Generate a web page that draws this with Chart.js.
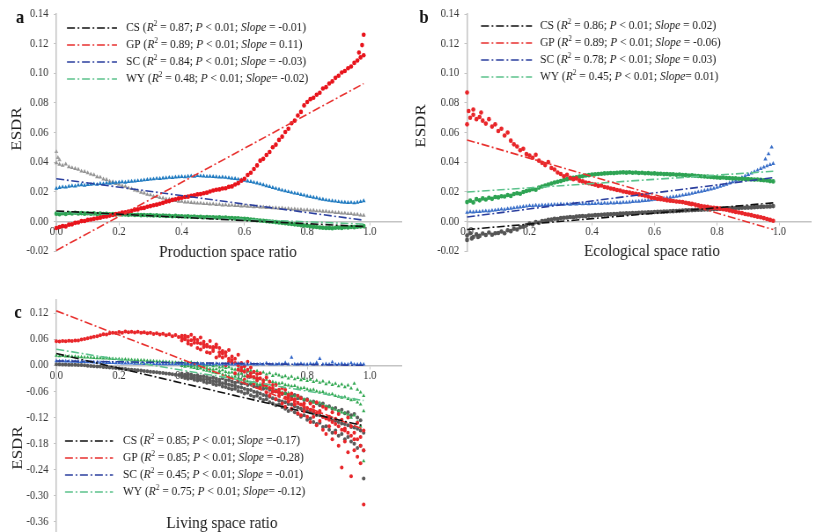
<!DOCTYPE html>
<html>
<head>
<meta charset="utf-8">
<script src="https://cdn.jsdelivr.net/npm/chart.js@4.4.1/dist/chart.umd.min.js"></script>
<style>
  html, body { margin: 0; padding: 0; background: #fff; }
  body { width: 814px; height: 532px; position: relative; overflow: hidden; }
  .panel { position: absolute; transform-origin: 0 0; transform: scaleX(0.88); }
  .panel canvas { display: block; }
</style>
</head>
<body>
<div class="panel" style="left:0;top:0"><canvas id="chartA" width="460" height="270"></canvas></div>
<div class="panel" style="left:405px;top:0"><canvas id="chartB" width="465" height="270"></canvas></div>
<div class="panel" style="left:0;top:290px"><canvas id="chartC" width="466" height="246"></canvas></div>
<script>
// ---------- shared categories and labels ----------
const seriesNames = ['CS', 'GP', 'SC', 'WY'];
const ratioGrid = [
  0.00,0.01,0.02,0.03,0.04,0.05,0.06,0.07,0.08,0.09,
  0.10,0.11,0.12,0.13,0.14,0.15,0.16,0.17,0.18,0.19,
  0.20,0.21,0.22,0.23,0.24,0.25,0.26,0.27,0.28,0.29,
  0.30,0.31,0.32,0.33,0.34,0.35,0.36,0.37,0.38,0.39,
  0.40,0.41,0.42,0.43,0.44,0.45,0.46,0.47,0.48,0.49,
  0.50,0.51,0.52,0.53,0.54,0.55,0.56,0.57,0.58,0.59,
  0.60,0.61,0.62,0.63,0.64,0.65,0.66,0.67,0.68,0.69,
  0.70,0.71,0.72,0.73,0.74,0.75,0.76,0.77,0.78,0.79,
  0.80,0.81,0.82,0.83,0.84,0.85,0.86,0.87,0.88,0.89,
  0.90,0.91,0.92,0.93,0.94,0.95,0.96,0.97,0.98];
const ratioTicks = [0, 0.2, 0.4, 0.6, 0.8, 1.0];
const esdrTicksAB = [-0.02, 0, 0.02, 0.04, 0.06, 0.08, 0.10, 0.12, 0.14];
const esdrTicksC = [-0.36, -0.30, -0.24, -0.18, -0.12, -0.06, 0, 0.06, 0.12];
const fitRange = [0, 0.98];

// ---------- (a) production space ----------
const prodCS = [
  0.0395,0.0385,0.0378,0.0386,0.0368,0.0362,0.0356,0.0351,0.0338,0.0336,
  0.0327,0.0318,0.0314,0.0300,0.0298,0.0285,0.0282,0.0270,0.0266,0.0255,
  0.0249,0.0240,0.0235,0.0225,0.0220,0.0210,0.0206,0.0195,0.0191,0.0181,
  0.0178,0.0169,0.0167,0.0159,0.0157,0.0150,0.0149,0.0141,0.0140,0.0135,
  0.0134,0.0130,0.0129,0.0126,0.0125,0.0122,0.0122,0.0119,0.0119,0.0116,
  0.0117,0.0113,0.0114,0.0110,0.0111,0.0108,0.0109,0.0105,0.0106,0.0103,
  0.0104,0.0101,0.0101,0.0098,0.0099,0.0096,0.0096,0.0093,0.0094,0.0090,
  0.0091,0.0088,0.0089,0.0085,0.0086,0.0083,0.0083,0.0079,0.0080,0.0076,
  0.0077,0.0073,0.0074,0.0070,0.0070,0.0067,0.0067,0.0063,0.0063,0.0059,
  0.0059,0.0055,0.0055,0.0051,0.0051,0.0047,0.0047,0.0042,0.0040];
const prodGP = [
  -0.0045,-0.0038,-0.0032,-0.0034,-0.0022,-0.0020,-0.0010,-0.0008,0.0002,0.0003,
  0.0010,0.0013,0.0017,0.0021,0.0025,0.0031,0.0033,0.0039,0.0043,0.0049,
  0.0053,0.0059,0.0061,0.0067,0.0071,0.0079,0.0081,0.0089,0.0091,0.0099,
  0.0103,0.0109,0.0113,0.0119,0.0125,0.0133,0.0137,0.0145,0.0149,0.0155,
  0.0159,0.0165,0.0167,0.0173,0.0176,0.0182,0.0184,0.0190,0.0194,0.0202,
  0.0208,0.0214,0.0216,0.0222,0.0224,0.0233,0.0236,0.0249,0.0258,0.0275,
  0.0288,0.0313,0.0328,0.0354,0.0378,0.0410,0.0422,0.0448,0.0468,0.0500,
  0.0518,0.0550,0.0572,0.0603,0.0625,0.0662,0.0680,0.0715,0.0739,0.0783,
  0.0806,0.0825,0.0835,0.0855,0.0868,0.0897,0.0906,0.0931,0.0945,0.0969,
  0.0983,0.1005,0.1015,0.1034,0.1046,0.1070,0.1086,0.1107,0.1122];
const prodSC = [
  0.0222,0.0228,0.0232,0.0230,0.0236,0.0240,0.0238,0.0244,0.0246,0.0243,
  0.0248,0.0250,0.0252,0.0249,0.0255,0.0253,0.0258,0.0256,0.0260,0.0262,
  0.0264,0.0266,0.0263,0.0268,0.0270,0.0272,0.0274,0.0276,0.0279,0.0282,
  0.0284,0.0286,0.0289,0.0288,0.0292,0.0294,0.0296,0.0295,0.0299,0.0300,
  0.0302,0.0300,0.0304,0.0306,0.0304,0.0308,0.0306,0.0305,0.0303,0.0304,
  0.0302,0.0300,0.0298,0.0299,0.0296,0.0294,0.0290,0.0288,0.0284,0.0280,
  0.0276,0.0272,0.0268,0.0262,0.0258,0.0252,0.0246,0.0240,0.0234,0.0228,
  0.0222,0.0216,0.0210,0.0205,0.0200,0.0195,0.0190,0.0186,0.0180,0.0176,
  0.0170,0.0166,0.0162,0.0158,0.0152,0.0148,0.0144,0.0141,0.0138,0.0136,
  0.0132,0.0130,0.0128,0.0126,0.0127,0.0124,0.0128,0.0132,0.0138];
const prodWY = [
  0.0052,0.0048,0.0055,0.0050,0.0057,0.0053,0.0058,0.0054,0.0056,0.0052,
  0.0055,0.0051,0.0054,0.0050,0.0052,0.0049,0.0051,0.0048,0.0050,0.0047,
  0.0048,0.0046,0.0047,0.0044,0.0046,0.0043,0.0045,0.0042,0.0043,0.0041,
  0.0042,0.0040,0.0041,0.0038,0.0040,0.0037,0.0038,0.0035,0.0037,0.0034,
  0.0035,0.0033,0.0034,0.0031,0.0033,0.0030,0.0031,0.0028,0.0030,0.0027,
  0.0028,0.0026,0.0027,0.0024,0.0025,0.0022,0.0023,0.0020,0.0021,0.0018,
  0.0017,0.0015,0.0013,0.0011,0.0008,0.0006,0.0004,0.0002,-0.0001,-0.0003,
  -0.0005,-0.0008,-0.0010,-0.0013,-0.0015,-0.0018,-0.0020,-0.0023,-0.0025,-0.0028,
  -0.0030,-0.0033,-0.0036,-0.0038,-0.0041,-0.0043,-0.0045,-0.0044,-0.0046,-0.0043,
  -0.0042,-0.0044,-0.0040,-0.0041,-0.0038,-0.0039,-0.0036,-0.0035,-0.0032];
const prodCSOutliers = [[0, 0.047], [0.005, 0.043], [0.01, 0.0415]];
const prodGPOutliers = [[0.98, 0.126], [0.975, 0.119], [0.965, 0.114]];
const prodFitStart = [0.0070, -0.0196, 0.0288, 0.0062];
const prodFitEnd = [-0.0035, 0.0930, 0.0008, -0.0018];
const prodR2 = ['0.87', '0.89', '0.84', '0.48'];
const prodSlope = [' = -0.01)', ' = 0.11)', ' = -0.03)', '= -0.02)'];

// ---------- (b) ecological space ----------
const ecoCS = [
  -0.0095,-0.0080,-0.0105,-0.0088,-0.0098,-0.0082,-0.0092,-0.0075,-0.0090,-0.0080,
  -0.0078,-0.0068,-0.0080,-0.0060,-0.0066,-0.0050,-0.0055,-0.0040,-0.0036,-0.0025,
  -0.0015,-0.0020,-0.0005,-0.0010,0.0002,0.0004,0.0010,0.0012,0.0018,0.0016,
  0.0022,0.0024,0.0026,0.0030,0.0028,0.0032,0.0034,0.0036,0.0035,0.0039,
  0.0040,0.0042,0.0043,0.0044,0.0046,0.0047,0.0048,0.0050,0.0050,0.0052,
  0.0053,0.0054,0.0055,0.0056,0.0057,0.0058,0.0059,0.0060,0.0061,0.0062,
  0.0063,0.0064,0.0065,0.0066,0.0067,0.0068,0.0069,0.0070,0.0071,0.0073,
  0.0074,0.0075,0.0076,0.0077,0.0078,0.0079,0.0080,0.0081,0.0082,0.0083,
  0.0084,0.0085,0.0086,0.0087,0.0088,0.0089,0.0090,0.0091,0.0092,0.0092,
  0.0093,0.0094,0.0096,0.0097,0.0098,0.0099,0.0100,0.0101,0.0103];
const ecoGP = [
  0.0655,0.0700,0.0720,0.0690,0.0705,0.0680,0.0660,0.0690,0.0640,0.0655,
  0.0610,0.0625,0.0580,0.0600,0.0545,0.0520,0.0505,0.0480,0.0490,0.0455,
  0.0445,0.0430,0.0450,0.0410,0.0395,0.0380,0.0400,0.0360,0.0350,0.0330,
  0.0320,0.0305,0.0315,0.0295,0.0285,0.0290,0.0275,0.0270,0.0262,0.0258,
  0.0252,0.0248,0.0240,0.0242,0.0232,0.0228,0.0222,0.0218,0.0212,0.0208,
  0.0202,0.0198,0.0194,0.0190,0.0186,0.0182,0.0178,0.0174,0.0168,0.0160,
  0.0158,0.0152,0.0150,0.0146,0.0142,0.0140,0.0138,0.0134,0.0132,0.0130,
  0.0126,0.0122,0.0118,0.0114,0.0108,0.0104,0.0100,0.0098,0.0094,0.0092,
  0.0090,0.0086,0.0082,0.0078,0.0074,0.0068,0.0064,0.0060,0.0056,0.0050,
  0.0046,0.0042,0.0036,0.0032,0.0028,0.0022,0.0016,0.0010,0.0004];
const ecoSC = [
  0.0060,0.0064,0.0062,0.0066,0.0065,0.0068,0.0070,0.0069,0.0073,0.0075,
  0.0078,0.0082,0.0080,0.0085,0.0088,0.0090,0.0094,0.0096,0.0099,0.0102,
  0.0105,0.0104,0.0108,0.0106,0.0110,0.0109,0.0112,0.0111,0.0114,0.0113,
  0.0116,0.0114,0.0117,0.0115,0.0118,0.0116,0.0119,0.0117,0.0120,0.0118,
  0.0120,0.0119,0.0122,0.0120,0.0123,0.0121,0.0124,0.0123,0.0126,0.0125,
  0.0128,0.0127,0.0130,0.0132,0.0134,0.0135,0.0138,0.0140,0.0142,0.0145,
  0.0148,0.0150,0.0153,0.0156,0.0159,0.0162,0.0165,0.0168,0.0172,0.0176,
  0.0180,0.0184,0.0188,0.0193,0.0198,0.0202,0.0207,0.0212,0.0218,0.0223,
  0.0229,0.0236,0.0242,0.0250,0.0258,0.0267,0.0276,0.0286,0.0296,0.0305,
  0.0315,0.0325,0.0335,0.0345,0.0356,0.0365,0.0374,0.0382,0.0390];
const ecoWY = [
  0.0130,0.0140,0.0128,0.0150,0.0142,0.0155,0.0148,0.0160,0.0152,0.0165,
  0.0162,0.0170,0.0168,0.0178,0.0172,0.0185,0.0190,0.0186,0.0198,0.0205,
  0.0210,0.0218,0.0214,0.0228,0.0235,0.0242,0.0248,0.0256,0.0262,0.0268,
  0.0272,0.0280,0.0285,0.0290,0.0294,0.0298,0.0302,0.0305,0.0310,0.0312,
  0.0316,0.0318,0.0320,0.0322,0.0324,0.0325,0.0327,0.0326,0.0328,0.0330,
  0.0331,0.0329,0.0332,0.0328,0.0330,0.0327,0.0328,0.0325,0.0326,0.0323,
  0.0324,0.0321,0.0322,0.0319,0.0320,0.0317,0.0318,0.0315,0.0316,0.0313,
  0.0312,0.0310,0.0311,0.0308,0.0306,0.0305,0.0303,0.0302,0.0300,0.0298,
  0.0297,0.0295,0.0296,0.0293,0.0292,0.0290,0.0291,0.0288,0.0287,0.0286,
  0.0285,0.0284,0.0282,0.0283,0.0280,0.0278,0.0276,0.0272,0.0270];
const ecoCSOutliers = [[0, -0.0125], [0.015, -0.0115], [0.035, -0.0105]];
const ecoGPOutliers = [[0, 0.087], [0.02, 0.0755], [0.005, 0.0745], [0.045, 0.0735]];
const ecoSCOutliers = [[0.975, 0.050], [0.965, 0.0455], [0.955, 0.042]];
const ecoFitStart = [-0.0055, 0.0550, 0.0030, 0.0198];
const ecoFitEnd = [0.0125, -0.0055, 0.0295, 0.0338];
const ecoR2 = ['0.86', '0.89', '0.78', '0.45'];
const ecoSlope = [' = 0.02)', ' = -0.06)', ' = 0.03)', '= 0.01)'];

// ---------- (c) living space ----------
const livCS = [
  0.0025,0.0022,0.0020,0.0018,0.0015,0.0012,0.0010,0.0006,0.0004,0.0000,
  -0.0012,-0.0016,-0.0020,-0.0026,-0.0030,-0.0038,-0.0044,-0.0050,-0.0058,-0.0065,
  -0.0072,-0.0080,-0.0086,-0.0094,-0.0100,-0.0108,-0.0115,-0.0122,-0.0130,-0.0138,
  -0.0148,-0.0155,-0.0162,-0.0170,-0.0178,-0.0186,-0.0195,-0.0205,-0.0215,-0.0222,
  -0.0230,-0.0250,-0.0240,-0.0270,-0.0290,-0.0280,-0.0310,-0.0330,-0.0320,-0.0350,
  -0.0360,-0.0380,-0.0370,-0.0410,-0.0420,-0.0440,-0.0460,-0.0470,-0.0500,-0.0510,
  -0.0540,-0.0560,-0.0570,-0.0610,-0.0620,-0.0650,-0.0680,-0.0700,-0.0720,-0.0760,
  -0.0780,-0.0810,-0.0830,-0.0850,-0.0890,-0.0900,-0.0940,-0.0970,-0.1000,-0.1020,
  -0.1050,-0.1080,-0.1100,-0.1140,-0.1150,-0.1180,-0.1210,-0.1230,-0.1270,-0.1280,
  -0.1300,-0.1340,-0.1350,-0.1380,-0.1420,-0.1430,-0.1460,-0.1500,-0.1550];
const livCSUpper = [
  -0.0190,-0.0220,-0.0200,-0.0210,-0.0240,-0.0230,-0.0260,-0.0250,-0.0270,-0.0300,
  -0.0280,-0.0310,-0.0330,-0.0300,-0.0350,-0.0340,-0.0370,-0.0400,-0.0380,-0.0420,
  -0.0410,-0.0450,-0.0430,-0.0480,-0.0500,-0.0470,-0.0540,-0.0520,-0.0560,-0.0600,
  -0.0580,-0.0620,-0.0660,-0.0640,-0.0690,-0.0720,-0.0680,-0.0760,-0.0740,-0.0800,
  -0.0780,-0.0850,-0.0830,-0.0870,-0.0920,-0.0880,-0.0960,-0.0940,-0.1000,-0.0980,
  -0.1050,-0.1020,-0.1100,-0.1080,-0.1150,-0.1120,-0.1200,-0.1260,-0.1960];
const livCSLower = [
  -0.0270,-0.0290,-0.0310,-0.0300,-0.0330,-0.0350,-0.0340,-0.0380,-0.0400,-0.0390,
  -0.0430,-0.0450,-0.0440,-0.0490,-0.0500,-0.0530,-0.0550,-0.0540,-0.0590,-0.0610,
  -0.0650,-0.0630,-0.0690,-0.0720,-0.0700,-0.0760,-0.0800,-0.0780,-0.0850,-0.0880,
  -0.0920,-0.0900,-0.0960,-0.1000,-0.1050,-0.1020,-0.1080,-0.1120,-0.1180,-0.1150,
  -0.1250,-0.1220,-0.1300,-0.1350,-0.1320,-0.1420,-0.1400,-0.1480,-0.1550,-0.1500,
  -0.1620,-0.1580,-0.1700,-0.1650,-0.1750,-0.1800,-0.1900,-0.1850,-0.2600];
const livGP = [
  0.0550,0.0545,0.0560,0.0552,0.0565,0.0558,0.0572,0.0568,0.0590,0.0602,
  0.0620,0.0640,0.0655,0.0668,0.0690,0.0712,0.0705,0.0735,0.0748,0.0740,
  0.0762,0.0750,0.0775,0.0760,0.0770,0.0755,0.0772,0.0748,0.0760,0.0735,
  0.0745,0.0720,0.0738,0.0705,0.0725,0.0690,0.0712,0.0670,0.0695,0.0650,
  0.0640,0.0620,0.0655,0.0575,0.0600,0.0520,0.0500,0.0470,0.0430,0.0420,
  0.0380,0.0420,0.0300,0.0270,0.0220,0.0150,0.0120,0.0050,0.0000,-0.0050,
  -0.0150,-0.0100,-0.0180,-0.0270,-0.0350,-0.0300,-0.0420,-0.0460,-0.0520,-0.0530,
  -0.0600,-0.0630,-0.0650,-0.0740,-0.0750,-0.0780,-0.0820,-0.0860,-0.0900,-0.0950,
  -0.0980,-0.1020,-0.1050,-0.1100,-0.1080,-0.1180,-0.1220,-0.1250,-0.1300,-0.1230,
  -0.1400,-0.1480,-0.1500,-0.1550,-0.1620,-0.1550,-0.1700,-0.1850,-0.1950];
const livGPUpper = [
  0.0680,0.0600,0.0560,0.0700,0.0520,0.0580,0.0640,0.0420,0.0470,0.0560,
  0.0330,0.0480,0.0400,0.0180,0.0300,0.0350,0.0060,0.0150,0.0240,-0.0120,
  -0.0020,0.0080,-0.0260,-0.0150,-0.0300,-0.0180,-0.0450,-0.0280,-0.0380,-0.0600,
  -0.0450,-0.0700,-0.0520,-0.0560,-0.0830,-0.0650,-0.0900,-0.0700,-0.0760,-0.1050,
  -0.0800,-0.0880,-0.1180,-0.0850,-0.1280,-0.0950,-0.1000,-0.1400,-0.1080,-0.1550,
  -0.1120,-0.1250,-0.1750,-0.1200,-0.1400,-0.1950,-0.1320,-0.2250,-0.1500];
const livGPLower = [
  0.0570,0.0680,0.0500,0.0470,0.0630,0.0400,0.0360,0.0540,0.0300,0.0280,
  0.0420,0.0180,0.0220,0.0330,0.0000,0.0080,0.0200,-0.0180,-0.0100,0.0050,
  -0.0330,-0.0250,-0.0050,-0.0420,-0.0200,-0.0520,-0.0350,-0.0620,-0.0700,-0.0450,
  -0.0780,-0.0560,-0.0880,-0.0950,-0.0680,-0.1000,-0.0780,-0.1100,-0.1150,-0.0880,
  -0.1180,-0.1300,-0.0950,-0.1380,-0.1050,-0.1480,-0.1580,-0.1180,-0.1700,-0.1350,
  -0.1850,-0.2350,-0.1450,-0.2000,-0.2550,-0.1700,-0.2100,-0.1650,-0.3200];
const livSC = [
  0.0100,0.0098,0.0095,0.0094,0.0090,0.0088,0.0086,0.0082,0.0080,0.0078,
  0.0075,0.0072,0.0070,0.0068,0.0065,0.0062,0.0060,0.0058,0.0055,0.0053,
  0.0050,0.0048,0.0046,0.0045,0.0043,0.0041,0.0040,0.0038,0.0037,0.0035,
  0.0034,0.0033,0.0032,0.0031,0.0030,0.0030,0.0029,0.0028,0.0028,0.0027,
  0.0027,0.0026,0.0030,0.0025,0.0028,0.0024,0.0035,0.0025,0.0026,0.0024,
  0.0025,0.0040,0.0024,0.0026,0.0023,0.0030,0.0024,0.0022,0.0045,0.0023,
  0.0024,0.0022,0.0035,0.0023,0.0021,0.0028,0.0022,0.0050,0.0021,0.0023,
  0.0022,0.0030,0.0021,0.0060,0.0022,0.0180,0.0025,0.0021,0.0040,0.0022,
  0.0020,0.0035,0.0021,0.0060,0.0150,0.0022,0.0030,0.0020,0.0070,0.0021,
  0.0020,0.0040,0.0021,0.0020,0.0050,0.0021,0.0020,0.0030,0.0020];
const livWY = [
  0.0220,0.0212,0.0215,0.0205,0.0208,0.0198,0.0200,0.0192,0.0190,0.0185,
  0.0180,0.0176,0.0172,0.0168,0.0165,0.0160,0.0158,0.0152,0.0150,0.0146,
  0.0142,0.0138,0.0136,0.0130,0.0128,0.0122,0.0120,0.0114,0.0112,0.0106,
  0.0102,0.0098,0.0094,0.0088,0.0085,0.0078,0.0075,0.0068,0.0065,0.0058,
  0.0030,0.0010,0.0040,-0.0010,0.0000,-0.0030,-0.0050,-0.0020,-0.0070,-0.0080,
  -0.0100,-0.0090,-0.0130,-0.0110,-0.0150,-0.0170,-0.0160,-0.0200,-0.0210,-0.0190,
  -0.0250,-0.0240,-0.0270,-0.0300,-0.0280,-0.0320,-0.0340,-0.0330,-0.0370,-0.0380,
  -0.0400,-0.0420,-0.0410,-0.0450,-0.0460,-0.0480,-0.0470,-0.0510,-0.0530,-0.0520,
  -0.0550,-0.0570,-0.0560,-0.0600,-0.0620,-0.0610,-0.0650,-0.0670,-0.0660,-0.0700,
  -0.0720,-0.0740,-0.0730,-0.0770,-0.0800,-0.0790,-0.0850,-0.0900,-0.1050];
const livWYUpper = [
  0.0070,0.0060,0.0050,0.0070,0.0040,0.0050,0.0020,0.0030,0.0000,0.0010,
  -0.0020,0.0000,-0.0050,-0.0030,-0.0060,-0.0040,-0.0080,-0.0100,-0.0070,-0.0120,
  -0.0100,-0.0140,-0.0120,-0.0170,-0.0130,-0.0190,-0.0160,-0.0210,-0.0180,-0.0240,
  -0.0200,-0.0230,-0.0270,-0.0250,-0.0300,-0.0260,-0.0320,-0.0290,-0.0340,-0.0310,
  -0.0360,-0.0330,-0.0380,-0.0350,-0.0400,-0.0370,-0.0430,-0.0390,-0.0450,-0.0420,
  -0.0480,-0.0440,-0.0500,-0.0460,-0.0530,-0.0420,-0.0560,-0.0620,-0.0700];
const livWYLower = [
  -0.0010,-0.0030,-0.0020,-0.0050,-0.0060,-0.0080,-0.0070,-0.0110,-0.0120,-0.0140,
  -0.0160,-0.0180,-0.0170,-0.0210,-0.0230,-0.0250,-0.0270,-0.0260,-0.0300,-0.0330,
  -0.0350,-0.0370,-0.0400,-0.0390,-0.0430,-0.0450,-0.0480,-0.0500,-0.0530,-0.0550,
  -0.0580,-0.0600,-0.0620,-0.0650,-0.0640,-0.0690,-0.0710,-0.0730,-0.0760,-0.0780,
  -0.0800,-0.0830,-0.0850,-0.0880,-0.0860,-0.0910,-0.0940,-0.0960,-0.0990,-0.1020,
  -0.1050,-0.1080,-0.1100,-0.1130,-0.1200,-0.1150,-0.1300,-0.1400,-0.2200];
const livFitStart = [0.0270, 0.1250, 0.0100, 0.0370];
const livFitEnd = [-0.1390, -0.1470, 0.0000, -0.0810];
const livR2 = ['0.85', '0.85', '0.45', '0.75'];
const livSlope = [' =-0.17)', ' = -0.28)', ' = -0.01)', '= -0.12)'];

// ---------- styling ----------
const SQUEEZE = 0.88;          // matches the .panel scaleX
const SERIF = '"Liberation Serif", "Times New Roman", serif';
const AXIS_COLOR = '#c4c4c4';
const FIT_COLORS = ['#111111', '#e8312f', '#2b3f9e', '#5cc28c'];
const DASH = [9, 3, 2, 3];

function points(xs, ys) { return ys.map((y, i) => ({ x: xs[i], y })); }
function pairs(list) { return list.map(([x, y]) => ({ x, y })); }

function dots(data, color, order, style, radius) {
  return {
    type: 'scatter', data, order, clip: false,
    backgroundColor: color, borderColor: color,
    pointRadius: radius || 2.3, pointBorderWidth: 0, pointStyle: style || 'circle'
  };
}
function fitLine(y0, y1, color) {
  return {
    type: 'line', order: 0, clip: false, fill: false,
    data: [{ x: fitRange[0], y: y0 }, { x: fitRange[1], y: y1 }],
    borderColor: color, borderWidth: 1.6, borderDash: DASH, pointRadius: 0
  };
}

function axisScales(p) {
  const tickMarks = { display: true, drawOnChartArea: false, drawTicks: true, tickLength: 3, color: AXIS_COLOR, lineWidth: 1 };
  return {
    x: {
      type: 'linear', axis: 'x', min: 0, max: 1.1, position: { y: 0 },
      afterBuildTicks: s => { s.ticks = ratioTicks.map(v => ({ value: v })); },
      afterFit: s => { s.height = 0; s.paddingLeft = 0; s.paddingRight = 0; s.paddingTop = 0; s.paddingBottom = 0; },
      grid: tickMarks,
      border: { display: true, color: AXIS_COLOR, width: 1.5 },
      ticks: { padding: 0, autoSkip: false, maxRotation: 0, color: '#333',
               font: { family: SERIF, size: 12 }, callback: v => v.toFixed(1) }
    },
    y: {
      type: 'linear', axis: 'y', min: p.yMin, max: p.yMax, position: 'left',
      afterBuildTicks: s => { s.ticks = p.yTicks.map(v => ({ value: v })); },
      afterFit: s => { s.width = p.yWidth; s.paddingTop = 0; s.paddingBottom = 0; },
      grid: tickMarks,
      border: { display: true, color: AXIS_COLOR, width: 1.5 },
      ticks: { padding: 6, autoSkip: false, color: '#333',
               font: { family: SERIF, size: 12 }, callback: v => v.toFixed(2) }
    }
  };
}

// legend text with italic R, P, Slope and a superscript 2
function drawRich(ctx, x, y, parts, size) {
  let cx = x;
  for (const [txt, kind] of parts) {
    let dy = 0;
    if (kind === 'i') ctx.font = `italic ${size}px ${SERIF}`;
    else if (kind === 's') { ctx.font = `${size * 0.65}px ${SERIF}`; dy = -size * 0.36; }
    else ctx.font = `${size}px ${SERIF}`;
    ctx.fillText(txt, cx, y + dy);
    cx += ctx.measureText(txt).width;
  }
}

function decorations(p) {
  const X = v => v / SQUEEZE;
  return {
    id: 'decor',
    afterDraw(chart) {
      const ctx = chart.ctx;
      ctx.save();
      ctx.textBaseline = 'middle';
      ctx.textAlign = 'center';
      ctx.fillStyle = '#111';
      ctx.font = `bold 19px ${SERIF}`;
      ctx.fillText(p.letter, X(p.letterAt[0]), p.letterAt[1]);

      ctx.fillStyle = '#222';
      ctx.font = `17.5px ${SERIF}`;
      ctx.fillText(p.xTitle, X(p.xTitleAt[0]), p.xTitleAt[1]);

      ctx.save();
      ctx.translate(X(p.yTitleAt[0]), p.yTitleAt[1]);
      ctx.rotate(-Math.PI / 2);
      ctx.font = `17px ${SERIF}`;
      ctx.fillText('ESDR', 0, 0);
      ctx.restore();

      ctx.textAlign = 'left';
      seriesNames.forEach((name, i) => {
        const y = p.legendRows[i];
        ctx.save();
        ctx.strokeStyle = FIT_COLORS[i];
        ctx.lineWidth = 1.6;
        ctx.setLineDash(DASH);
        ctx.beginPath();
        ctx.moveTo(X(p.legendLine[0]), y);
        ctx.lineTo(X(p.legendLine[1]), y);
        ctx.stroke();
        ctx.restore();
        ctx.fillStyle = '#1a1a1a';
        drawRich(ctx, X(p.legendText), y, [
          [name + ' (', 'n'], ['R', 'i'], ['2', 's'], [' = ' + p.r2[i] + '; ', 'n'],
          ['P', 'i'], [' < 0.01; ', 'n'], ['Slope', 'i'], [p.slope[i], 'n']
        ], 13);
      });
      ctx.restore();
    }
  };
}

function makePanel(canvasId, p) {
  new Chart(document.getElementById(canvasId), {
    type: 'scatter',
    data: { datasets: p.datasets },
    options: {
      responsive: false, animation: false, devicePixelRatio: 1,
      layout: { padding: p.padding },
      plugins: { legend: { display: false }, tooltip: { enabled: false } },
      scales: axisScales(p)
    },
    plugins: [decorations(p)]
  });
}

const tail = ratioGrid.slice(40);

makePanel('chartA', {
  letter: 'a', letterAt: [20, 18], xTitle: 'Production space ratio', xTitleAt: [228, 252],
  yTitleAt: [17.5, 129], legendLine: [67, 117], legendText: 126, legendRows: [28, 45, 62, 79],
  r2: prodR2, slope: prodSlope,
  yMin: -0.02, yMax: 0.14, yTicks: esdrTicksAB, yWidth: 64,
  padding: { left: 0, top: 14, right: 4, bottom: 19 },
  datasets: [
    fitLine(prodFitStart[0], prodFitEnd[0], FIT_COLORS[0]),
    fitLine(prodFitStart[1], prodFitEnd[1], FIT_COLORS[1]),
    fitLine(prodFitStart[2], prodFitEnd[2], FIT_COLORS[2]),
    fitLine(prodFitStart[3], prodFitEnd[3], FIT_COLORS[3]),
    dots(points(ratioGrid, prodGP), '#e8141c', 1),
    dots(pairs(prodGPOutliers), '#e8141c', 1),
    dots(points(ratioGrid, prodWY), '#2ea353', 2),
    dots(points(ratioGrid, prodSC), '#1f7ac0', 3, 'triangle', 2.6),
    dots(points(ratioGrid, prodCS), '#939393', 4, 'triangle', 2.6),
    dots(pairs(prodCSOutliers), '#a0a0a0', 4, 'triangle', 2.6)
  ]
});

makePanel('chartB', {
  letter: 'b', letterAt: [19, 18], xTitle: 'Ecological space ratio', xTitleAt: [247, 251],
  yTitleAt: [16, 126], legendLine: [76, 127], legendText: 135, legendRows: [26, 43, 60, 77],
  r2: ecoR2, slope: ecoSlope,
  yMin: -0.02, yMax: 0.14, yTicks: esdrTicksAB, yWidth: 70.5,
  padding: { left: 0, top: 14, right: 3, bottom: 19 },
  datasets: [
    fitLine(ecoFitStart[0], ecoFitEnd[0], FIT_COLORS[0]),
    fitLine(ecoFitStart[1], ecoFitEnd[1], FIT_COLORS[1]),
    fitLine(ecoFitStart[2], ecoFitEnd[2], FIT_COLORS[2]),
    fitLine(ecoFitStart[3], ecoFitEnd[3], FIT_COLORS[3]),
    dots(points(ratioGrid, ecoGP), '#e8262a', 1),
    dots(pairs(ecoGPOutliers), '#e8262a', 1),
    dots(points(ratioGrid, ecoWY), '#2ea353', 2),
    dots(points(ratioGrid, ecoSC), '#3a6fc8', 3, 'triangle', 2.6),
    dots(pairs(ecoSCOutliers), '#3a6fc8', 3, 'triangle', 2.6),
    dots(points(ratioGrid, ecoCS), '#555555', 4),
    dots(pairs(ecoCSOutliers), '#555555', 4)
  ]
});

makePanel('chartC', {
  letter: 'c', letterAt: [18, 23], xTitle: 'Living space ratio', xTitleAt: [222, 233],
  yTitleAt: [18.5, 158], legendLine: [65, 113], legendText: 123, legendRows: [151, 168, 185, 202],
  r2: livR2, slope: livSlope,
  yMin: -0.383, yMax: 0.15, yTicks: esdrTicksC, yWidth: 64,
  padding: { left: 0, top: 10, right: 10, bottom: 0 },
  datasets: [
    fitLine(livFitStart[0], livFitEnd[0], FIT_COLORS[0]),
    fitLine(livFitStart[1], livFitEnd[1], FIT_COLORS[1]),
    fitLine(livFitStart[2], livFitEnd[2], FIT_COLORS[2]),
    fitLine(livFitStart[3], livFitEnd[3], FIT_COLORS[3]),
    dots(points(ratioGrid, livSC), '#2f64c8', 1, 'triangle', 2.4),
    dots(points(ratioGrid, livGP), '#e8262a', 2, 'circle', 2),
    dots(points(tail, livGPUpper), '#e8262a', 2, 'circle', 2),
    dots(points(tail, livGPLower), '#e8262a', 2, 'circle', 2),
    dots(points(ratioGrid, livWY), '#32a852', 3, 'triangle', 2.3),
    dots(points(tail, livWYUpper), '#32a852', 3, 'triangle', 2.3),
    dots(points(tail, livWYLower), '#32a852', 3, 'triangle', 2.3),
    dots(points(ratioGrid, livCS), '#5a5a5a', 4, 'circle', 2),
    dots(points(tail, livCSUpper), '#5a5a5a', 4, 'circle', 2),
    dots(points(tail, livCSLower), '#5a5a5a', 4, 'circle', 2)
  ]
});
</script>
</body>
</html>
